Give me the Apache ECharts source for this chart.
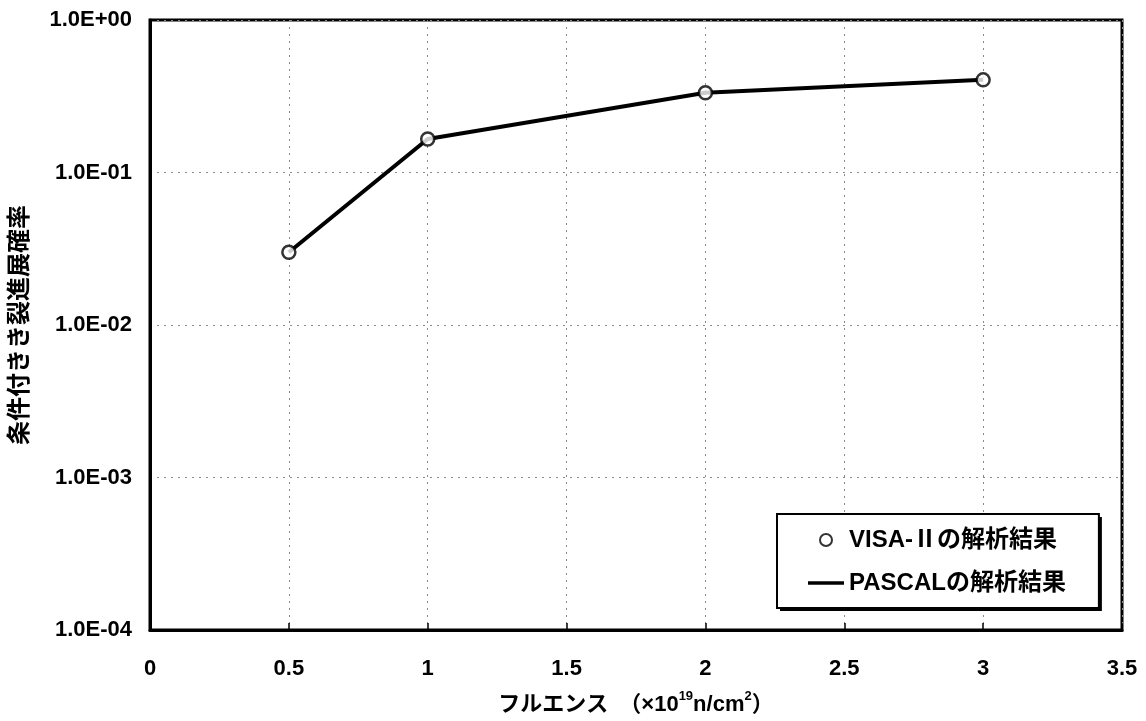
<!DOCTYPE html>
<html>
<head>
<meta charset="utf-8">
<script src="https://cdn.jsdelivr.net/npm/echarts@6/dist/echarts.min.js"></script>
<style>
  html, body { margin: 0; padding: 0; background: #fff; }
  #chart { width: 1146px; height: 721px; }
</style>
</head>
<body>
<div id="chart"></div>
<script>
// Fluence (x 10^19 n/cm^2)
const fluence = [0.5, 1.0, 2.0, 3.0];
// Conditional crack propagation probability
const visaValues = [0.030, 0.166, 0.333, 0.405];
const pascalValues = [0.030, 0.166, 0.333, 0.405];

const xTickLabels = ['0', '0.5', '1', '1.5', '2', '2.5', '3', '3.5'];
const yTickLabels = ['1.0E-04', '1.0E-03', '1.0E-02', '1.0E-01', '1.0E+00'];

const seriesNames = ['VISA-Ⅱの解析結果', 'PASCALの解析結果'];

const FONT = "'Liberation Sans', 'Noto Sans CJK JP', sans-serif";
const LINE_ICON = 'path://M0,0H36V3.6H0Z';

// Legend entries: hollow circle for VISA, plain bar for PASCAL
function legendEntries() {
  return [
    { name: seriesNames[0] },
    { name: seriesNames[1], icon: LINE_ICON }
  ];
}

const legendBase = {
  orient: 'vertical',
  left: 777,
  top: 514,
  padding: [14, 33, 13, 31],
  itemGap: 19,
  itemWidth: 36,
  itemHeight: 12,
  borderRadius: 0
};

const chart = echarts.init(document.getElementById('chart'));

chart.setOption({
  animation: false,
  backgroundColor: '#fff',
  grid: {
    left: 149, right: 24, top: 20, bottom: 90,
    show: true,
    borderColor: '#000',
    borderWidth: 3,
    backgroundColor: 'transparent'
  },
  legend: [
    // main legend box
    Object.assign({}, legendBase, {
      z: 20,
      backgroundColor: '#fff',
      borderColor: '#000',
      borderWidth: 2,
      textStyle: { fontFamily: FONT, fontSize: 24, fontWeight: 'bold', color: '#000' },
      data: legendEntries()
    }),
    // solid drop shadow behind the legend box
    Object.assign({}, legendBase, {
      z: 19,
      left: 780,
      top: 517,
      selectedMode: false,
      backgroundColor: '#000',
      borderWidth: 0,
      textStyle: { fontFamily: FONT, fontSize: 24, fontWeight: 'bold', color: 'rgba(0,0,0,0)' },
      data: legendEntries()
    })
  ],
  xAxis: {
    type: 'value',
    min: 0,
    max: 3.5,
    interval: 0.5,
    name: '{t|フルエンス\u3000（×10}{s|19}{t|n/cm}{s|2}{t|）}',
    nameLocation: 'middle',
    nameGap: 60,
    nameTextStyle: {
      rich: {
        t: { fontFamily: FONT, fontSize: 22, fontWeight: 'bold', color: '#000', verticalAlign: 'bottom', lineHeight: 26 },
        s: { fontFamily: FONT, fontSize: 13, fontWeight: 'bold', color: '#000', verticalAlign: 'top', lineHeight: 26, padding: [0, 0, 12, 0] }
      }
    },
    axisLine: { show: true, lineStyle: { color: '#000', width: 3 } },
    axisTick: { show: true, inside: true, length: 7, lineStyle: { color: '#000', width: 1.5 } },
    axisLabel: {
      margin: 28,
      fontFamily: FONT, fontSize: 22, fontWeight: 'bold', color: '#000',
      formatter: function (v) { return xTickLabels[Math.round(v / 0.5)]; }
    },
    splitLine: { show: true, lineStyle: { color: '#8a8a8a', width: 1, type: [2, 5] } }
  },
  yAxis: {
    type: 'log',
    logBase: 10,
    min: 1e-4,
    max: 1,
    name: '条件付きき裂進展確率',
    nameLocation: 'middle',
    nameRotate: 90,
    nameGap: 118,
    nameTextStyle: { fontFamily: FONT, fontSize: 24, fontWeight: 'bold', color: '#000' },
    axisLine: { show: true, lineStyle: { color: '#000', width: 3 } },
    axisTick: { show: false },
    axisLabel: {
      margin: 18,
      fontFamily: FONT, fontSize: 22, fontWeight: 'bold', color: '#000',
      formatter: function (v) { return yTickLabels[Math.round(Math.log10(v)) + 4]; }
    },
    splitLine: { show: true, lineStyle: { color: '#8a8a8a', width: 1, type: [2, 5] } }
  },
  series: [
    {
      name: seriesNames[0],
      type: 'scatter',
      z: 5,
      symbol: 'circle',
      symbolSize: 13,
      itemStyle: { color: '#fff', borderColor: '#000', borderWidth: 2.5 },
      data: fluence.map((x, i) => [x, visaValues[i]])
    },
    {
      name: seriesNames[1],
      type: 'line',
      z: 3,
      symbol: 'none',
      lineStyle: { color: '#000', width: 4 },
      itemStyle: { color: '#000' },
      data: fluence.map((x, i) => [x, pascalValues[i]])
    }
  ]
});
</script>
</body>
</html>
